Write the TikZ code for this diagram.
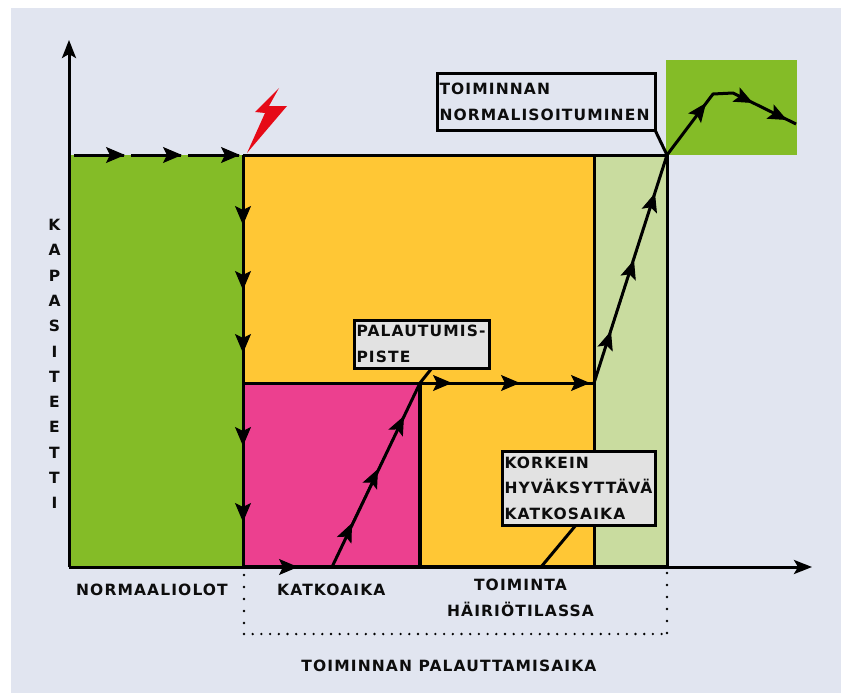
\documentclass[tikz,border=0pt]{standalone}
\usepackage{fontspec}
\setmainfont{DejaVu Sans}[LetterSpace=7.2]
\usetikzlibrary{arrows.meta,positioning}

\definecolor{pagebg}{HTML}{E1E5F0}
\definecolor{normalgreen}{HTML}{84BC27}
\definecolor{degradedyellow}{HTML}{FFC735}
\definecolor{outagepink}{HTML}{EC408F}
\definecolor{recoverygreen}{HTML}{C9DC9F}
\definecolor{calloutgrey}{HTML}{E2E2E2}
\definecolor{boltred}{HTML}{E60A17}

\tikzset{
  outline/.style={line width=3pt, black},
  flow/.style={black, line width=1pt, -{Stealth[length=19pt,width=16pt,inset=4pt]}},
  axis/.style={outline, -{Stealth[length=18pt,width=14pt,inset=4pt]}},
  callout/.style={draw, line width=3pt, rectangle, anchor=north west, align=left, outer sep=0pt,
    inner ysep=0pt, inner xsep=1.5pt, font=\fontsize{15.5}{25.5}\selectfont\bfseries, text=black!95},
  caption/.style={font=\fontsize{15.5}{25.5}\selectfont\bfseries, align=center, text=black!95, inner sep=0pt},
  dots/.style={line width=2.6pt, line cap=round, dash pattern=on 0pt off #1},
}

\begin{document}
\begin{tikzpicture}[x=1pt,y=-1pt]
  \useasboundingbox (0,0) rectangle (841,693);
  \fill[pagebg] (11,8) rectangle (841,693);

  % corner points of the areas
  \coordinate (origin) at (69,567);
  \coordinate (ytip) at (69,40);
  \coordinate (xtip) at (812,567);
  \coordinate (fail) at (243,155);
  \coordinate (failb) at (243,567);
  \coordinate (low) at (243,383);
  \coordinate (back) at (420,383);
  \coordinate (backb) at (420,567);
  \coordinate (restart) at (332,567);
  \coordinate (stable) at (594,383);
  \coordinate (stableb) at (594,567);
  \coordinate (stablet) at (594,155);
  \coordinate (normal) at (667,155);
  \coordinate (normalb) at (667,567);

  % areas
  \fill[normalgreen] (69,155) rectangle (failb);
  \fill[degradedyellow] (fail) rectangle (stableb);
  \fill[recoverygreen] (stablet) rectangle (normalb);
  \fill[outagepink] (low) rectangle (backb);
  \fill[normalgreen] (666,60) rectangle (797,155);

  % borders
  \draw[outline] (fail) -- (normal);
  \draw[outline] (stablet) -- (stableb);
  \draw[outline] (normal) -- (normalb);
  \draw[outline] (low) -- (back);
  \draw[outline, line width=4pt] (back) -- (backb);
  \draw[outline, line width=4pt] (failb) -- (normalb);

  % axes
  \draw[axis] (origin) -- (ytip);
  \draw[axis] (origin) -- (xtip);

  % lightning
  \fill[boltred] (279,88) -- (255,112) -- (265,113) -- (247,153) -- (287,106) -- (269,106) -- cycle;

  % normal operation
  \coordinate (n0) at (74,155);
  \coordinate (n1) at (125,155);
  \coordinate (n2) at (131,155);
  \coordinate (n3) at (182,155);
  \coordinate (n4) at (188,155);
  \coordinate (n5) at (240,155);
  \draw[outline] (n0) -- (124,155);
  \draw[outline] (n2) -- (181,155);
  \draw[outline] (n4) -- (239,155);
  \draw[flow] (n0) -- (n1);
  \draw[flow] (n2) -- (n3);
  \draw[flow] (n4) -- (n5);

  % falling capacity
  \coordinate (d1) at (243,225);
  \coordinate (d2) at (243,290);
  \coordinate (d3) at (243,353);
  \coordinate (d4) at (243,446);
  \coordinate (d5) at (243,522);
  \draw[outline] (fail) -- (failb);
  \draw[flow] (fail) -- (d1);
  \draw[flow] (d1) -- (d2);
  \draw[flow] (d2) -- (d3);
  \draw[flow] (d3) -- (d4);
  \draw[flow] (d4) -- (d5);

  % outage and recovery to degraded level
  \coordinate (o1) at (298,567);
  \coordinate (r1) at (352,523);
  \coordinate (r2) at (378,469);
  \coordinate (r3) at (404,416);
  \draw[flow] (failb) -- (o1);
  \draw[outline] (restart) -- (back);
  \draw[flow] (restart) -- (r1);
  \draw[flow] (r1) -- (r2);
  \draw[flow] (r2) -- (r3);

  % degraded operation
  \coordinate (h1) at (452,383);
  \coordinate (h2) at (520,383);
  \coordinate (h3) at (590,383);
  \draw[outline] (back) -- (stable);
  \draw[flow] (back) -- (h1);
  \draw[flow] (h1) -- (h2);
  \draw[flow] (h2) -- (h3);

  % recovery to normal
  \coordinate (u1) at (611,331);
  \coordinate (u2) at (634,260);
  \coordinate (u3) at (655,193);
  \coordinate (v1) at (706,103);
  \coordinate (v2) at (713,94);
  \coordinate (v3) at (733,93);
  \coordinate (v4) at (753,103);
  \coordinate (v5) at (787,120);
  \coordinate (v6) at (796,124);
  \draw[outline, line join=round] (stable) -- (normal) -- (v2) -- (v3) -- (v6);
  \draw[flow] (stable) -- (u1);
  \draw[flow] (u1) -- (u2);
  \draw[flow] (u2) -- (u3);
  \draw[flow] (normal) -- (v1);
  \draw[flow] (v3) -- (v4);
  \draw[flow] (v4) -- (v5);

  % callouts
  \node[callout, minimum width=218pt, minimum height=56pt, text width=213pt] (normbox) at (437,74)
    {TOIMINNAN\\NORMALISOITUMINEN};
  \draw[outline] (normbox.south east) -- (normal);

  \node[callout, fill=calloutgrey, minimum width=135pt, minimum height=48pt, text width=130pt] (pointbox) at (354,320)
    {PALAUTUMIS-\\PISTE};
  \coordinate (pointfoot) at (432,368);
  \draw[outline] (pointfoot) -- (back);

  \coordinate (limitfoot) at (576,525);
  \coordinate (limitend) at (541,567);
  \draw[outline] (limitfoot) -- (limitend);
  \node[callout, fill=calloutgrey, minimum width=153pt, minimum height=74pt, text width=148pt] (limitbox) at (502,451)
    {KORKEIN\\HYV\"AKSYTT\"AV\"A\\KATKOSAIKA};

  % time spans below the axis
  \node[caption] (normlabel) at (152,590) {NORMAALIOLOT};
  \node[caption, right=49pt of normlabel] (outlabel) {KATKOAIKA};
  \node[caption] (degradelabel) at (520.5,598) {TOIMINTA\\H\"AIRI\"OTILASSA};
  \node[caption] (spanlabel) at (449,666) {TOIMINNAN PALAUTTAMISAIKA};

  \coordinate (spanl) at (244,634);
  \coordinate (spanr) at (667,634);
  \coordinate (spanlt) at (244,575);
  \coordinate (spanrt) at (667,573);
  \draw[dots=12pt] (spanlt) -- (spanl);
  \draw[dots=8.7pt] (spanl) -- (spanr);
  \draw[dots=12pt] (spanrt) -- (spanr);

  % vertical axis title
  \node[caption, font=\fontsize{15.5}{25.3}\selectfont\bfseries] (ylabel) at (54.5,364)
    {K\\A\\P\\A\\S\\I\\T\\E\\E\\T\\T\\I};
\end{tikzpicture}
\end{document}
